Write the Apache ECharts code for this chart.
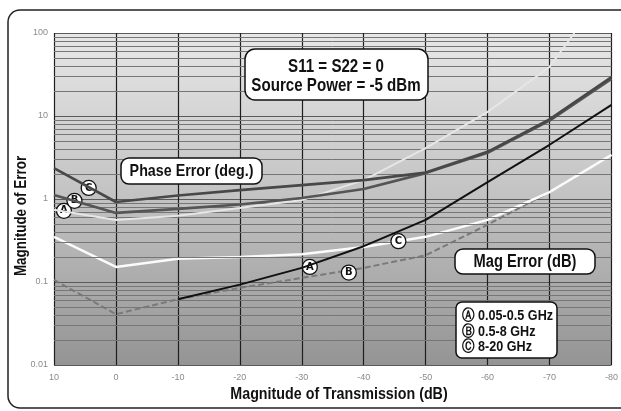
<!DOCTYPE html>
<html>
<head>
<meta charset="utf-8">
<script src="https://cdn.jsdelivr.net/npm/echarts@6/dist/echarts.min.js"></script>
<style>
html,body{margin:0;padding:0;background:#fff;}
#chart{width:621px;height:411px;}
</style>
</head>
<body>
<div id="chart"></div>
<script>
// ---- Data ----
const xTicks = [10, 0, -10, -20, -30, -40, -50, -60, -70, -80];
const yTickLabels = ['0.01', '0.1', '1', '10', '100'];

// Phase error (deg.)
const phaseA_x = [10, 0, -10, -20, -30, -40, -50, -60, -70, -74];
const phaseA   = [0.74, 0.56, 0.63, 0.78, 0.97, 1.69, 4.1, 11.2, 39, 100];
const phaseB_x = [10, 0, -10, -20, -30, -40, -50, -60, -70, -80];
const phaseB   = [1.12, 0.68, 0.76, 0.86, 1.03, 1.32, 2.05, 3.6, 8.8, 28];
const phaseC_x = [10, 0, -10, -20, -30, -40, -50, -60, -70, -80];
const phaseC   = [2.36, 0.92, 1.1, 1.28, 1.47, 1.69, 2.08, 3.7, 9.1, 29.5];

// Magnitude error (dB)
const magA_x = [-10, -20, -30, -40, -50, -60, -70, -80];
const magA   = [0.062, 0.093, 0.148, 0.27, 0.56, 1.6, 4.5, 13.6];
const magB_x = [10, 0, -10, -20, -30, -40, -50, -60, -70, -80];
const magB   = [0.106, 0.041, 0.062, 0.085, 0.112, 0.148, 0.21, 0.49, 1.21, 3.4];
const magC_x = [10, 0, -10, -20, -30, -40, -50, -60, -70, -80];
const magC   = [0.35, 0.152, 0.19, 0.2, 0.216, 0.264, 0.35, 0.56, 1.21, 3.4];

// minor (2..9) log grid values
const minorGrid = [0.02,0.03,0.04,0.05,0.06,0.07,0.08,0.09,
                   0.2,0.3,0.4,0.5,0.6,0.7,0.8,0.9,
                   2,3,4,5,6,7,8,9,
                   20,30,40,50,60,70,80,90];

const pairs = (xs, ys) => xs.map((x, i) => [x, ys[i]]);

const FONT = '"Liberation Sans", Arial, sans-serif';
const NARROW = 0.84;

function tag(letter, x, y) {
  return { coord: [x, y], value: letter };
}
const markStyle = {
  symbol: 'circle', symbolSize: 15, silent: true,
  itemStyle: { color: '#fff', borderColor: '#111', borderWidth: 1.3 },
  label: { show: true, formatter: p => p.value, color: '#111', fontSize: 10, fontWeight: 'bold',
           fontFamily: 'DejaVu Sans', position: 'inside' }
};

function ntext(x, y, text, size, align, rot) {
  return {
    type: 'text', z: 101, x: x, y: y, rotation: rot || 0, scaleX: NARROW, silent: true,
    style: { x: 0, y: 0, text: text, align: align || 'center', verticalAlign: 'middle',
             font: 'bold ' + size + 'px ' + FONT, fill: '#111' }
  };
}
function box(x, y, w, h, r) {
  return { type: 'rect', z: 100, silent: true, shape: { x: x, y: y, width: w, height: h, r: r },
           style: { fill: '#fff', stroke: '#111', lineWidth: 1.5 } };
}

const chart = echarts.init(document.getElementById('chart'), null, { renderer: 'canvas' });

const option = {
  animation: false,
  backgroundColor: '#fff',
  grid: {
    left: 54, right: 1, top: 33, bottom: 46,
    show: true,
    borderWidth: 0,
    backgroundColor: new echarts.graphic.LinearGradient(0, 0, 0, 1, [
      { offset: 0, color: '#e7e7e7' },
      { offset: 0.5, color: '#c2c2c2' },
      { offset: 1, color: '#949494' }
    ])
  },
  xAxis: {
    type: 'value', min: -80, max: 10, interval: 10, inverse: true,
    axisLine: { show: false }, axisTick: { show: false },
    axisLabel: { color: '#8a8a8a', fontSize: 9, margin: 8, fontFamily: 'Liberation Sans',
                 formatter: v => xTicks.indexOf(v) >= 0 ? String(v) : '' },
    splitLine: { show: true, lineStyle: { color: '#1e1e1e', width: 1.2 } }
  },
  yAxis: {
    type: 'log', logBase: 10, min: 0.01, max: 100,
    axisLine: { show: false }, axisTick: { show: false },
    axisLabel: { color: '#8a8a8a', fontSize: 9, margin: 6, fontFamily: 'Liberation Sans',
                 formatter: v => {
                   const e = Math.round(Math.log10(v)) + 2;
                   return yTickLabels[e] !== undefined ? yTickLabels[e] : '';
                 } },
    splitLine: { show: true, lineStyle: { color: '#5a5a5a', width: 1.2 } }
  },
  series: [
    {
      name: 'grid', type: 'line', data: [], silent: true,
      markLine: {
        silent: true, symbol: 'none', label: { show: false },
        lineStyle: { color: '#767676', width: 1, type: 'solid' },
        data: minorGrid.map(v => ({ yAxis: v }))
      }
    },
    {
      name: 'Mag B', type: 'line', data: pairs(magB_x, magB), symbol: 'none', z: 3,
      lineStyle: { color: '#7a7a7a', width: 2, type: [6, 3] },
      markPoint: Object.assign({ data: [tag('B', -37.6, 0.13)] }, markStyle)
    },
    {
      name: 'Mag C', type: 'line', data: pairs(magC_x, magC), symbol: 'none', z: 4,
      lineStyle: { color: '#fbfbfb', width: 2.5 },
      markPoint: Object.assign({ data: [tag('C', -45.6, 0.31)] }, markStyle)
    },
    {
      name: 'Mag A', type: 'line', data: pairs(magA_x, magA), symbol: 'none', z: 5,
      lineStyle: { color: '#111', width: 2 },
      markPoint: Object.assign({ data: [tag('A', -31.3, 0.152)] }, markStyle)
    },
    {
      name: 'Phase A', type: 'line', data: pairs(phaseA_x, phaseA), symbol: 'none', z: 6,
      lineStyle: { color: '#e6e6e6', width: 2 },
      markPoint: Object.assign({ data: [tag('A', 8.4, 0.72)] }, markStyle)
    },
    {
      name: 'Phase B', type: 'line', data: pairs(phaseB_x, phaseB), symbol: 'none', z: 7,
      lineStyle: { color: '#555', width: 2.6 },
      markPoint: Object.assign({ data: [tag('B', 6.7, 0.95)] }, markStyle)
    },
    {
      name: 'Phase C', type: 'line', data: pairs(phaseC_x, phaseC), symbol: 'none', z: 8,
      lineStyle: { color: '#484848', width: 2.6 },
      markPoint: Object.assign({ data: [tag('C', 4.4, 1.36)] }, markStyle)
    }
  ],
  graphic: [
    // outer rounded frame
    { type: 'rect', z: 100, silent: true,
      shape: { x: 8, y: 10, width: 640, height: 398, r: 12 },
      style: { fill: 'none', stroke: '#222', lineWidth: 1.5 } },
    box(245, 49, 183, 51, 10),
    ntext(336, 67, 'S11 = S22 = 0', 18),
    ntext(336, 86, 'Source Power = -5 dBm', 18),
    box(121, 158, 141, 26, 8),
    ntext(191.5, 171, 'Phase Error (deg.)', 17),
    box(455, 249, 140, 25, 8),
    ntext(525, 262, 'Mag Error (dB)', 17.5),
    box(456, 302, 101, 56, 6),
    ntext(462, 316, 'Ⓐ 0.05-0.5 GHz', 15, 'left'),
    ntext(462, 332, 'Ⓑ 0.5-8 GHz', 15, 'left'),
    ntext(462, 347, 'Ⓒ 8-20 GHz', 15, 'left'),
    ntext(22, 216, 'Magnitude of Error', 16, 'center', Math.PI / 2),
    ntext(339, 394, 'Magnitude of Transmission (dB)', 17)
  ]
};
chart.setOption(option);
</script>
</body>
</html>
